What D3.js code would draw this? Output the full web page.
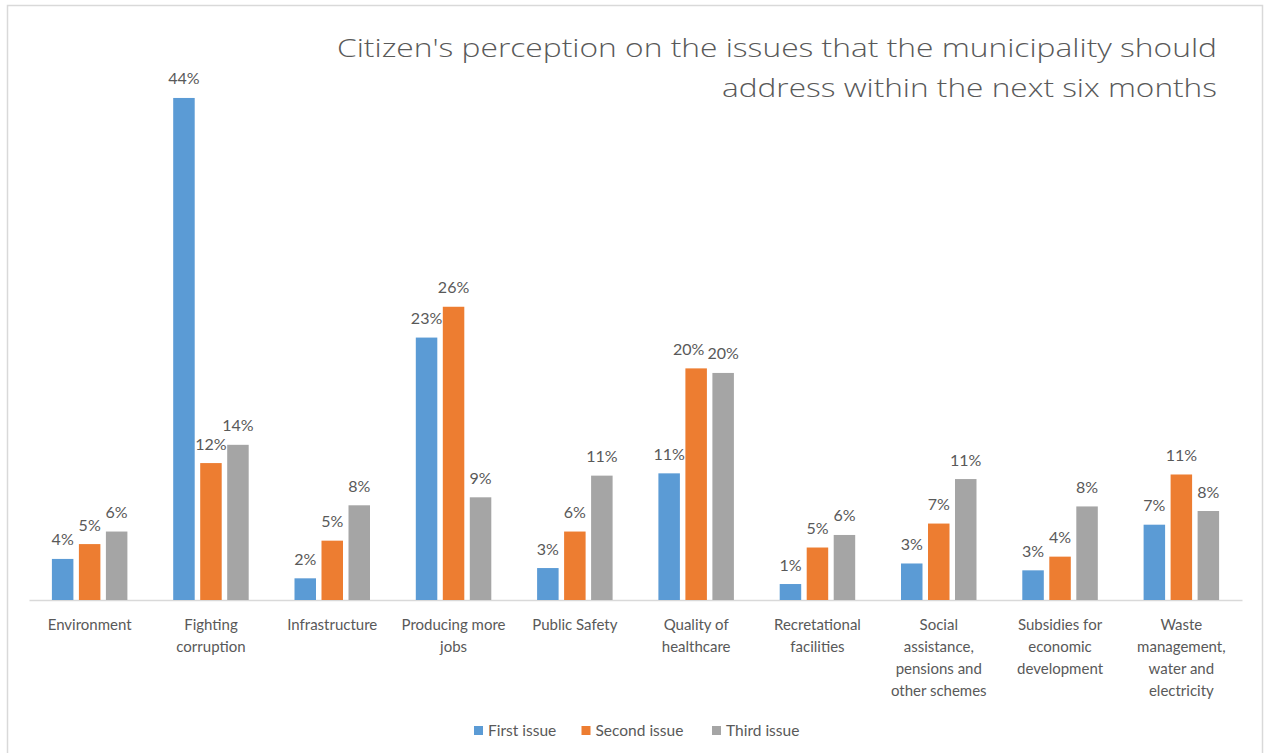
<!DOCTYPE html>
<html>
<head>
<meta charset="utf-8">
<script src="https://cdn.jsdelivr.net/npm/d3@7"></script>
<style>
  html, body { margin: 0; padding: 0; background: #ffffff; }
  svg { display: block; }
  text { font-family: Lato, "Open Sans", sans-serif; fill: #595959; }
</style>
</head>
<body>
<svg id="chart" width="1265" height="753"></svg>
<script>
// Survey shares per issue (fraction of respondents)
const categories = [
  "Environment",
  "Fighting\ncorruption",
  "Infrastructure",
  "Producing more\njobs",
  "Public Safety",
  "Quality of\nhealthcare",
  "Recretational\nfacilities",
  "Social\nassistance,\npensions and\nother schemes",
  "Subsidies for\neconomic\ndevelopment",
  "Waste\nmanagement,\nwater and\nelectricity"
];
const seriesNames = ["First issue", "Second issue", "Third issue"];
const firstIssue  = [0.036, 0.440, 0.019, 0.230, 0.028, 0.111, 0.014, 0.032, 0.026, 0.066];
const secondIssue = [0.049, 0.120, 0.052, 0.257, 0.060, 0.203, 0.046, 0.067, 0.038, 0.110];
const thirdIssue  = [0.060, 0.136, 0.083, 0.090, 0.109, 0.199, 0.057, 0.106, 0.082, 0.078];
const seriesColors = ["#5B9BD5", "#ED7D31", "#A5A5A5"];
const titleLines = [
  "Citizen's perception on the issues that the municipality should",
  "address within the next six months"
];

const seriesValues = [firstIssue, secondIssue, thirdIssue];
const svg = d3.select("#chart");

// chart frame
svg.append("rect")
  .attr("x", 7.5).attr("y", 5.5)
  .attr("width", 1255).attr("height", 760)
  .attr("fill", "none").attr("stroke", "#D9D9D9").attr("stroke-width", 1.5);

// title, right aligned, stretched to the title block width
const titleWidths = [880, 495];
svg.append("g").selectAll("text")
  .data(titleLines).join("text")
  .attr("x", 1217)
  .attr("y", (d, i) => 57 + i * 40)
  .attr("text-anchor", "end")
  .attr("textLength", (d, i) => titleWidths[i])
  .attr("lengthAdjust", "spacingAndGlyphs")
  .style("font-family", "'Open Sans', sans-serif")
  .style("font-weight", 300)
  .style("font-size", "25px")
  .style("fill", "#595959")
  .text(d => d);

const plotLeft = 29, plotRight = 1242, baseY = 600;
const x0 = d3.scaleBand().domain(d3.range(categories.length)).range([plotLeft, plotRight]);
const y = d3.scaleLinear().domain([0, 0.5]).range([baseY, 29.5]);
const groupHalf = 37.75;
const x1 = d3.scaleBand().domain(d3.range(seriesNames.length))
  .range([-groupHalf, groupHalf]).paddingInner(0.2037).paddingOuter(0);

// category axis
const axis = d3.axisBottom(x0).tickSize(0).tickSizeOuter(0).tickFormat(() => "");
const axisG = svg.append("g").attr("transform", `translate(0,${baseY})`).call(axis);
axisG.select(".domain").attr("stroke", "#D9D9D9").attr("stroke-width", 1.5);
axisG.selectAll(".tick").each(function(d) {
  const t = d3.select(this).select("text")
    .attr("y", 0).attr("dy", null)
    .style("font-size", "15px").style("fill", "#595959");
  t.selectAll("tspan").data(categories[d].split("\n")).join("tspan")
    .attr("x", 0)
    .attr("y", (l, i) => 29.5 + i * 22.2)
    .text(l => l);
});

// bars
const groups = svg.append("g").selectAll("g")
  .data(categories.map((c, i) => i)).join("g")
  .attr("transform", i => `translate(${x0(i) + x0.bandwidth() / 2},0)`);

groups.selectAll("rect")
  .data(i => seriesValues.map((vals, s) => ({ s, v: vals[i] })))
  .join("rect")
  .attr("x", d => x1(d.s))
  .attr("width", x1.bandwidth())
  .attr("y", d => y(d.v))
  .attr("height", d => baseY - y(d.v))
  .attr("fill", d => seriesColors[d.s]);

// value labels
const fmt = d3.format(".0%");
const glyphHeight = 12;
groups.each(function() {
  const g = d3.select(this);
  const labels = g.selectAll("text.val")
    .data(g.selectAll("rect").data())
    .join("text")
    .attr("class", "val")
    .attr("x", d => x1(d.s) + x1.bandwidth() / 2)
    .attr("y", d => y(d.v) - 13.5)
    .attr("text-anchor", "middle")
    .style("font-size", "16px")
    .text(d => fmt(d.v));
  // nudge a label left when its digits would collide with its right-hand neighbour
  const nodes = labels.nodes();
  for (let k = nodes.length - 2; k >= 0; k--) {
    const a = nodes[k].getBBox(), b = nodes[k + 1].getBBox();
    const ya = +d3.select(nodes[k]).attr("y"), yb = +d3.select(nodes[k + 1]).attr("y");
    const vOverlap = Math.abs(ya - yb) < glyphHeight;
    const gap = 3;
    if (vOverlap && a.x + a.width + gap > b.x) {
      const shift = a.x + a.width + gap - b.x;
      const cur = +d3.select(nodes[k]).attr("x");
      d3.select(nodes[k]).attr("x", cur - shift);
    }
  }
});

// legend
const legendX = [474, 581.5, 712];
const legend = svg.append("g").selectAll("g")
  .data(seriesNames).join("g")
  .attr("transform", (d, i) => `translate(${legendX[i]},726)`);
legend.append("rect")
  .attr("width", 9).attr("height", 9)
  .attr("fill", (d, i) => seriesColors[i]);
legend.append("text")
  .attr("x", 14).attr("y", 10)
  .style("font-size", "15.5px")
  .text(d => d);
</script>
</body>
</html>
